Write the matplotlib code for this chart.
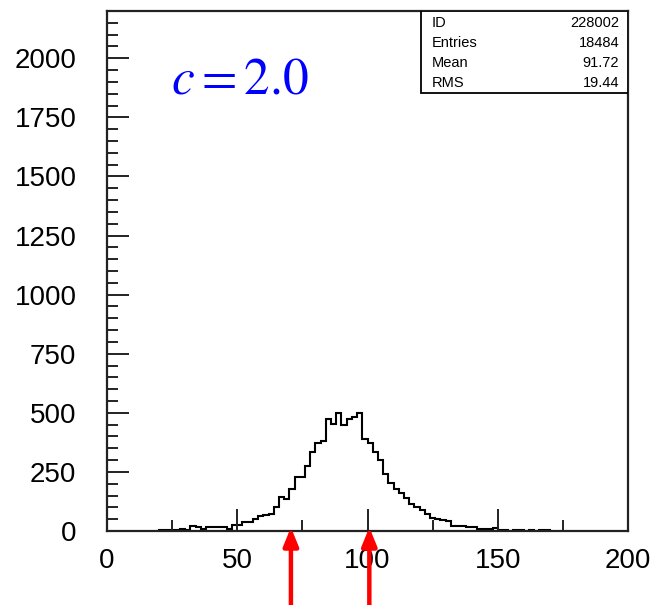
import numpy as np
import matplotlib
matplotlib.use("Agg")
import matplotlib.pyplot as plt
from matplotlib.ticker import MultipleLocator

# Histogram data (bin width 2, starting at 20)
bin_start = 20
bin_width = 2
counts = [5, 6, 5, 6, 7, 6, 22, 16, 8, 16,
          17, 16, 16, 9, 24, 25, 37, 38, 52, 62,
          68, 70, 100, 143, 135, 177, 227, 227, 275, 333,
          374, 380, 475, 452, 501, 447, 475, 483, 501, 389,
          372, 333, 302, 240, 204, 177, 160, 138, 114, 100,
          89, 72, 56, 49, 47, 44, 23, 23, 23, 16,
          16, 7, 7, 7, 14, 5, 5, 0, 4, 4,
          0, 4, 0, 4, 4]
edges = bin_start + bin_width * np.arange(len(counts) + 1)

x_ticks = [0, 50, 100, 150, 200]
y_ticks = [0, 250, 500, 750, 1000, 1250, 1500, 1750, 2000]
arrow_x = [70.6, 100.7]

stats_labels = ["ID", "Entries", "Mean", "RMS"]
stats_values = ["228002", "18484", "91.72", "19.44"]
annotation = r"$c = 2.0$"

plt.rcParams["font.family"] = ["Liberation Sans", "DejaVu Sans"]
plt.rcParams["mathtext.fontset"] = "stix"

fig = plt.figure(figsize=(6.56, 6.05), dpi=100)
ax = fig.add_axes([107/656, 74/605, 521/656, 520/605])

ax.stairs(counts, edges, color="black", linewidth=1.5, baseline=0)

ax.set_xlim(0, 200)
ax.set_ylim(0, 2200)
ax.set_xticks(x_ticks)
ax.set_yticks(y_ticks)
ax.xaxis.set_minor_locator(MultipleLocator(25))
ax.yaxis.set_minor_locator(MultipleLocator(50))
ax.tick_params(axis="both", which="major", direction="in", length=16, width=1.4,
               labelsize=20, color="#222222")
ax.tick_params(axis="both", which="minor", direction="in", length=8, width=1.4,
               color="#222222")
ax.tick_params(axis="x", which="both", top=False, pad=12)
ax.tick_params(axis="y", which="both", right=False, pad=22)
for s in ax.spines.values():
    s.set_linewidth(1.6)
    s.set_color("#222222")

# Stats box
x0, y0 = (421 - 107) / 521, (531 - 93) / 520
rect = plt.Rectangle((x0, y0), 1 - x0, 1 - y0, transform=ax.transAxes,
                     facecolor="white", edgecolor="black", linewidth=1.3, zorder=5)
ax.add_patch(rect)
row_y = [0.977, 0.938, 0.900, 0.862]
for lab, val, yy in zip(stats_labels, stats_values, row_y):
    ax.text(0.624, yy, lab, transform=ax.transAxes, ha="left", va="center",
            fontsize=10.5, zorder=6)
    ax.text(0.983, yy, val, transform=ax.transAxes, ha="right", va="center",
            fontsize=10.5, zorder=6)

ax.text((171 - 107) / 521, (531 - 94) / 520, annotation, transform=ax.transAxes,
        ha="left", va="baseline", fontsize=37, color="#0000ff")

for xa in arrow_x:
    ax.annotate("", xy=(xa, 0.007), xycoords=("data", "axes fraction"),
                xytext=(xa, 0.0), textcoords=("data", "figure fraction"),
                arrowprops=dict(arrowstyle="-|>,head_length=1.1,head_width=0.45",
                                color="red", linewidth=3.2, shrinkA=0, shrinkB=0),
                annotation_clip=False)

fig.savefig("out.png", dpi=100)
